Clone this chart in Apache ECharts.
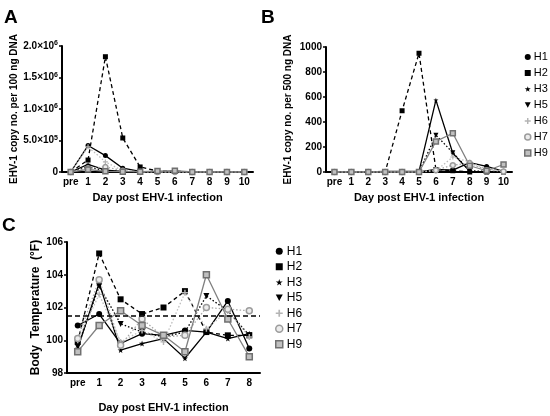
<!DOCTYPE html>
<html><head><meta charset="utf-8">
<script src="https://cdn.jsdelivr.net/npm/echarts@6/dist/echarts.min.js"></script>
<style>html,body{margin:0;padding:0;background:#fff}#c{width:550px;height:416px}</style>
</head><body><div id="c"></div>
<script>
var seriesNames = ['H1','H2','H3','H5','H6','H7','H9'];
var daysAB = ['pre','1','2','3','4','5','6','7','8','9','10'];
var daysC = ['pre','1','2','3','4','5','6','7','8'];
var ticksA = ['0','5.0×10{s|5}','1.0×10{s|6}','1.5×10{s|6}','2.0×10{s|6}'];

// Panel A: EHV-1 copy no. per 100 ng DNA
var aH1 = [0, 420000, 260000, 60000, 10000, 0, 0, 0, 0, 0, 0];
var aH2 = [0, 190000, 1830000, 540000, 80000, 15000, 15000, 0, 0, 0, 0];
var aH3 = [0, 120000, 30000, 10000, 5000, 0, 0, 0, 0, 0, 0];
var aH5 = [0, 80000, 20000, 5000, 0, 0, 0, 0, 0, 0, 0];
var aH6 = [0, 400000, 160000, 20000, 5000, 0, 0, 0, 0, 0, 0];
var aH7 = [0, 60000, 80000, 20000, 0, 0, 0, 0, 0, 0, 0];
var aH9 = [0, 40000, 10000, 5000, 5000, 15000, 20000, 0, 0, 0, 0];

// Panel B: EHV-1 copy no. per 500 ng DNA
var bH1 = [0, 0, 0, 0, 0, 0, 20, 15, 75, 45, 5];
var bH2 = [0, 0, 0, 0, 490, 950, 20, 10, 0, 0, 0];
var bH3 = [0, 0, 0, 5, 5, 5, 575, 150, 5, 0, 0];
var bH5 = [0, 0, 0, 0, 0, 0, 295, 155, 10, 5, 0];
var bH6 = [0, 0, 0, 0, 0, 0, 10, 120, 80, 20, 10];
var bH7 = [0, 0, 0, 0, 0, 0, 15, 55, 70, 15, 5];
var bH9 = [0, 0, 0, 0, 0, 0, 245, 310, 50, 10, 60];

// Panel C: Body temperature (°F)
var cH1 = [100.9, 101.6, 99.8, 100.4, 100.3, 100.6, 100.5, 102.4, 99.5];
var cH2 = [99.9, 105.3, 102.5, 101.6, 102.0, 103.0, 100.5, 100.3, 100.3];
var cH3 = [99.5, 103.5, 99.4, 99.8, 100.1, 98.9, 100.5, 100.1, 100.4];
var cH5 = [99.6, 103.3, 101.0, 100.5, 100.2, 100.5, 102.7, 101.8, 100.3];
var cH6 = [100.0, 102.8, 99.9, 100.6, 99.9, 102.9, 100.7, 101.8, 100.2];
var cH7 = [100.1, 103.7, 99.7, 101.3, 100.2, 100.3, 102.0, 101.9, 101.8];
var cH9 = [99.3, 100.9, 101.8, 100.9, 100.3, 99.3, 104.0, 101.3, 99.0];
var feverThreshold = 101.5;

var FONT = 'Liberation Sans, Arial, sans-serif';
var STAR = 'path://M50,0 L61,35 L98,35 L68,57 L79,91 L50,70 L21,91 L32,57 L2,35 L39,35 Z';
var PLUS = 'path://M38,0 H62 V38 H100 V62 H62 V100 H38 V62 H0 V38 H38 Z';
var DOWN = 'path://M0,0 L100,0 L50,90 Z';

var styles = {
  H1: {symbol:'circle', item:{color:'#000'}, line:{color:'#000', type:'solid', width:1.3}},
  H2: {symbol:'rect', item:{color:'#000'}, line:{color:'#000', type:[4,3], width:1.3}},
  H3: {symbol:STAR, item:{color:'#000'}, line:{color:'#000', type:'solid', width:1.3}},
  H5: {symbol:DOWN, item:{color:'#000'}, line:{color:'#000', type:[1.5,2], width:1.3}},
  H6: {symbol:PLUS, item:{color:'#b4b4b4'}, line:{color:'#bdbdbd', type:[1.5,2], width:1.3}},
  H7: {symbol:'circle', item:{color:'#ececec', borderColor:'#9c9c9c', borderWidth:1.5}, line:{color:'#a8a8a8', type:[1.5,2], width:1.3}},
  H9: {symbol:'rect', item:{color:'#c0c0c0', borderColor:'#707070', borderWidth:1.5}, line:{color:'#808080', type:'solid', width:1.3}}
};

var dataA = {H1:aH1,H2:aH2,H3:aH3,H5:aH5,H6:aH6,H7:aH7,H9:aH9};
var dataB = {H1:bH1,H2:bH2,H3:bH3,H5:bH5,H6:bH6,H7:bH7,H9:bH9};
var dataC = {H1:cH1,H2:cH2,H3:cH3,H5:cH5,H6:cH6,H7:cH7,H9:cH9};

function mk(name, data, idx, size){
  var s = styles[name];
  return {
    name:name, type:'line', xAxisIndex:idx, yAxisIndex:idx, data:data,
    symbol:s.symbol, symbolSize:size, showSymbol:true,
    itemStyle:s.item, lineStyle:s.line, animation:false, z: 2
  };
}

var series = [];
seriesNames.forEach(function(n){ series.push(mk(n, dataA[n], 0, 5)); });
seriesNames.forEach(function(n){ series.push(mk(n, dataB[n], 1, 5)); });
seriesNames.forEach(function(n){
  var s = mk(n, dataC[n], 2, 6);
  if (n === 'H1') {
    s.markLine = {silent:true, symbol:'none', label:{show:false},
      lineStyle:{color:'#000', type:[5,3], width:1.5},
      data:[{yAxis: feverThreshold}], animation:false};
  }
  series.push(s);
});

var tickLabel = {color:'#000', fontFamily:FONT, fontWeight:'bold', fontSize:10};
var axisLine = {show:true, lineStyle:{color:'#000', width:2}};
function nameStyle(sz){ return {color:'#000', fontFamily:FONT, fontWeight:'bold', fontSize:sz}; }

function xAx(idx, cats, gap){
  return {type:'category', gridIndex:idx, data:cats, boundaryGap:true,
    axisLine:axisLine, axisTick:{show:false}, axisLabel:Object.assign({margin:5, interval:0}, tickLabel),
    splitLine:{show:false},
    name:'Day post EHV-1 infection', nameLocation:'middle', nameGap:gap, nameTextStyle:nameStyle(11)};
}
function yAx(idx, min, max, itv, fmt, name, gap, sz, rich){
  var lab = Object.assign({margin:4, formatter:fmt}, tickLabel);
  if (rich) lab.rich = rich;
  return {type:'value', gridIndex:idx, min:min, max:max, interval:itv,
    axisLine:axisLine, axisTick:{show:true, length:3, lineStyle:{color:'#000', width:1.5}},
    axisLabel:lab, splitLine:{show:false},
    name:name, nameLocation:'middle', nameGap:gap, nameTextStyle:nameStyle(sz)};
}

var legendItems = seriesNames.map(function(n){
  var s = styles[n];
  return {name:n, icon:s.symbol, itemStyle:s.item};
});

var option = {
  backgroundColor:'#fff',
  animation:false,
  textStyle:{fontFamily:FONT},
  graphic:[
    {type:'text', left:4, top:8, style:{text:'A', font:'bold 19px Liberation Sans, Arial', fill:'#000'}},
    {type:'text', left:261, top:8, style:{text:'B', font:'bold 19px Liberation Sans, Arial', fill:'#000'}},
    {type:'text', left:2, top:216, style:{text:'C', font:'bold 19px Liberation Sans, Arial', fill:'#000'}}
  ],
  grid:[
    {left:62, top:46, width:191, height:126, containLabel:false},
    {left:326, top:47, width:186, height:125, containLabel:false},
    {left:67, top:242, width:193, height:131, containLabel:false}
  ],
  xAxis:[ xAx(0, daysAB, 20), xAx(1, daysAB, 20), xAx(2, daysC, 29) ],
  yAxis:[
    yAx(0, 0, 2000000, 500000, function(v){ return ticksA[Math.round(v/500000)]; }, 'EHV-1 copy no. per 100 ng DNA', 42, 10,
        {s:{fontSize:7, fontWeight:'bold', fontFamily:FONT, color:'#000', verticalAlign:'top', padding:[0,0,5,0]}}),
    yAx(1, 0, 1000, 200, function(v){ return String(v); }, 'EHV-1 copy no. per 500 ng DNA', 33, 10),
    yAx(2, 98, 106, 2, function(v){ return String(v); }, 'Body  Temperature  (°F)', 25, 12)
  ],
  legend:[
    {orient:'vertical', left:519, top:46, itemWidth:6, itemHeight:6, itemGap:4,
     data:legendItems, textStyle:{color:'#000', fontFamily:FONT, fontSize:11, lineHeight:12, padding:[0,0,0,-2]}, selectedMode:false},
    {orient:'vertical', left:270, top:240, itemWidth:7, itemHeight:7, itemGap:3,
     data:legendItems, textStyle:{color:'#000', fontFamily:FONT, fontSize:12, lineHeight:12.5, padding:[0,0,0,-1]}, selectedMode:false}
  ],
  series:series
};

var chart = echarts.init(document.getElementById('c'), null, {renderer:'canvas'});
chart.setOption(option);
</script>
</body></html>
